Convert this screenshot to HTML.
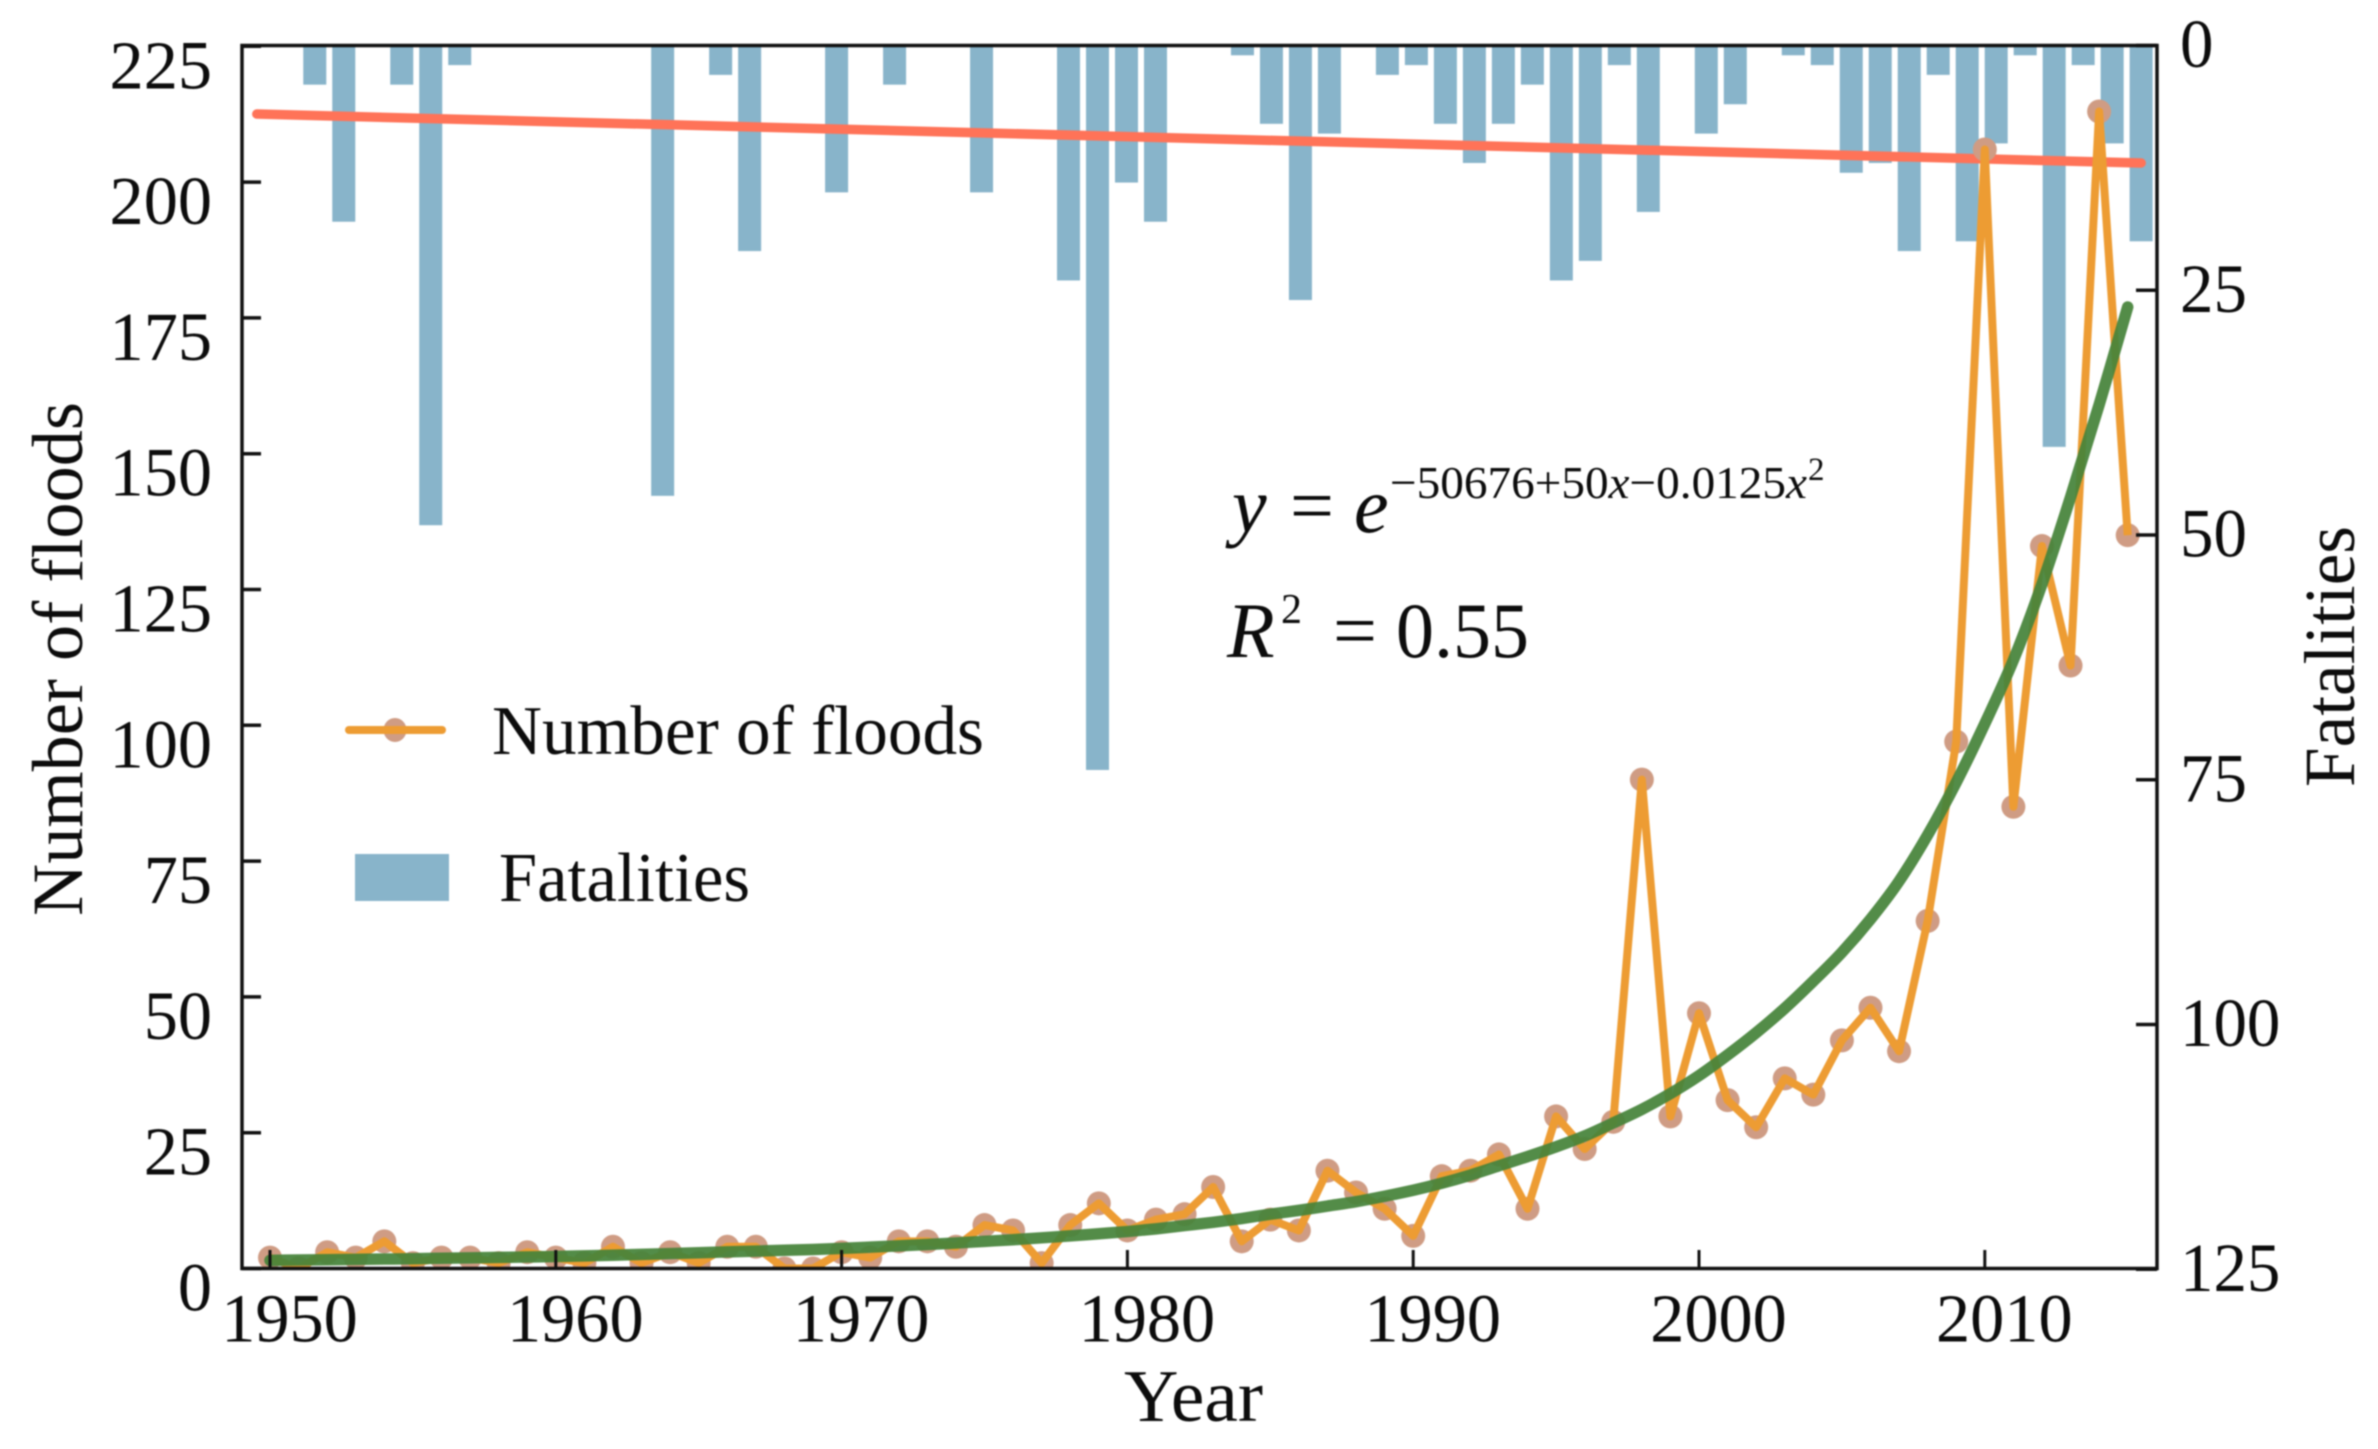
<!DOCTYPE html>
<html lang="en">
<head>
<meta charset="utf-8">
<title>Number of floods and fatalities, 1950-2015</title>
<style>
  html, body { margin: 0; padding: 0; background: #fff; }
  svg { display: block; font-family: "Liberation Serif", serif; fill: #0c0c0c; filter: blur(0.7px); }
</style>
</head>
<body>
<svg id="chart" xmlns="http://www.w3.org/2000/svg" width="2378" height="1449" viewBox="0 0 2378 1449">
  <defs>
    <clipPath id="plot-clip"><rect x="242" y="45" width="1915" height="1224"/></clipPath>
  </defs>
  <g id="bars"></g>
  <g id="trend"></g>
  <g id="series" clip-path="url(#plot-clip)"></g>
  <g id="fit"></g>
  <g id="axes"></g>

  <text x="1124" y="1421" font-size="74" textLength="139" lengthAdjust="spacingAndGlyphs">Year</text>
  <text transform="translate(82,916) rotate(-90)" font-size="72" textLength="514" lengthAdjust="spacingAndGlyphs">Number of floods</text>
  <text transform="translate(2354,787) rotate(-90)" font-size="72" textLength="261" lengthAdjust="spacingAndGlyphs">Fatalities</text>

  <g>
    <ellipse cx="395" cy="730" rx="11.5" ry="12" fill="#cf9c84"/>
    <line x1="349" y1="730" x2="442" y2="730" stroke="#ed9c33" stroke-width="8" stroke-linecap="round"/>
    <text x="492" y="754" font-size="70" textLength="492" lengthAdjust="spacingAndGlyphs">Number of floods</text>
    <rect x="355" y="854" width="94" height="47" fill="#88b4ca"/>
    <text x="499" y="901" font-size="70" textLength="251" lengthAdjust="spacingAndGlyphs">Fatalities</text>
  </g>

  <g>
    <text x="1232" y="532" font-size="78" font-style="italic">y</text>
    <text x="1290" y="532" font-size="78">=</text>
    <text x="1354" y="532" font-size="78" font-style="italic">e</text>
    <text x="1390" y="498" font-size="46" textLength="417" lengthAdjust="spacingAndGlyphs">−50676+50<tspan font-style="italic">x</tspan>−0.0125<tspan font-style="italic">x</tspan></text>
    <text x="1808" y="480" font-size="33">2</text>
    <text x="1227" y="657" font-size="78" font-style="italic">R</text>
    <text x="1281" y="623" font-size="42">2</text>
    <text x="1333" y="657" font-size="78">=</text>
    <text x="1396" y="657" font-size="78" textLength="133" lengthAdjust="spacingAndGlyphs">0.55</text>
  </g>
</svg>

<script>
// Chart data
const years = [1950,1951,1952,1953,1954,1955,1956,1957,1958,1959,1960,1961,1962,1963,1964,1965,1966,1967,1968,1969,1970,1971,1972,1973,1974,1975,1976,1977,1978,1979,1980,1981,1982,1983,1984,1985,1986,1987,1988,1989,1990,1991,1992,1993,1994,1995,1996,1997,1998,1999,2000,2001,2002,2003,2004,2005,2006,2007,2008,2009,2010,2011,2012,2013,2014,2015];
const floods = [2,0,3,2,5,1,2,2,1,3,2,1,4,1,3,1,4,4,0,0,3,2,5,5,4,8,7,1,8,12,7,9,10,15,5,9,7,18,14,11,6,17,18,21,11,28,22,27,90,28,47,31,26,35,32,42,48,40,64,97,206,85,133,111,213,135];
const fitValues = [1.5,1.56,1.62,1.68,1.74,1.8,1.88,1.96,2.04,2.12,2.2,2.32,2.45,2.6,2.75,2.9,3.05,3.2,3.35,3.5,3.7,3.93,4.17,4.42,4.7,5,5.3,5.65,6,6.4,6.8,7.3,7.9,8.5,9.2,10,10.7,11.5,12.3,13.3,14.4,15.7,17.2,18.9,20.6,22.4,24.4,26.8,29.3,32.2,35.5,39.3,43.4,47.9,52.9,58.2,64.3,71.3,79.8,89.5,100.3,112,126,142,159,177];
const fatalities = [0,0,4,18,0,4,49,2,0,0,0,0,0,0,46,0,3,21,0,0,15,0,4,0,0,15,0,0,24,74,14,18,0,0,1,8,26,9,0,3,2,8,12,8,4,24,22,2,17,0,9,6,0,1,2,13,12,21,3,20,10,1,41,2,10,20];
const trendYears = [1950,2015];
const trendValues = [7,12];
const leftTicks = [0,25,50,75,100,125,150,175,200,225];
const rightTicks = [0,25,50,75,100,125];
const xTicks = [1950,1960,1970,1980,1990,2000,2010];

// Axis functions
const NS = 'http://www.w3.org/2000/svg';
const xLine = y => 270 + (y - 1950) * 28.58;
const xBar = y => 256.8 + (y - 1950) * 28.99;
const yLeft = v => 1268.5 - v * 5.432;
const yRight = v => 45.5 + v * 9.79;

function mk(parent, tag, attrs) {
  const el = document.createElementNS(NS, tag);
  for (const k in attrs) el.setAttribute(k, attrs[k]);
  parent.appendChild(el);
  return el;
}

// Fatality bars hanging from the top
const barsG = document.getElementById('bars');
years.forEach((yr, i) => {
  if (!fatalities[i]) return;
  const el = mk(barsG, 'rect', { x: xBar(yr) - 11.5, y: yRight(0), width: 23, height: yRight(fatalities[i]) - yRight(0), fill: '#88b4ca' });
  
  
});

// Fatalities trend line
const trendG = document.getElementById('trend');
const trendLine = mk(trendG, 'line', { x1: xBar(trendYears[0]), y1: yRight(trendValues[0]), x2: xBar(trendYears[1]), y2: yRight(trendValues[1]), stroke: '#ff7358', 'stroke-width': 9.5, 'stroke-linecap': 'round' });



// Floods markers and line
const seriesG = document.getElementById('series');
years.forEach((yr, i) => {
  const m = mk(seriesG, 'ellipse', { cx: xLine(yr), cy: yLeft(floods[i]), rx: 12, ry: 12, fill: '#cf9c84' });
  
  
});
const floodLine = mk(seriesG, 'polyline', { points: years.map((yr, i) => xLine(yr) + ',' + yLeft(floods[i])).join(' '), fill: 'none', stroke: '#ed9c33', 'stroke-width': 8, 'stroke-linejoin': 'round' });



// Fit curve: a smooth spline through the yearly values
const fitG = document.getElementById('fit');
const fitPts = years.map((yr, i) => [xLine(yr), yLeft(fitValues[i])]);
let fitPath = 'M' + fitPts[0][0] + ' ' + fitPts[0][1];
for (let i = 0; i < fitPts.length - 1; i++) {
  const p0 = fitPts[Math.max(i - 1, 0)], p1 = fitPts[i], p2 = fitPts[i + 1], p3 = fitPts[Math.min(i + 2, fitPts.length - 1)];
  fitPath += ' C' + (p1[0] + (p2[0] - p0[0]) / 6) + ' ' + (p1[1] + (p2[1] - p0[1]) / 6) + ' ' + (p2[0] - (p3[0] - p1[0]) / 6) + ' ' + (p2[1] - (p3[1] - p1[1]) / 6) + ' ' + p2[0] + ' ' + p2[1];
}
const fitLine = mk(fitG, 'path', { d: fitPath, fill: 'none', stroke: '#46833a', 'stroke-opacity': 0.93, 'stroke-width': 11.5, 'stroke-linecap': 'round', 'stroke-linejoin': 'round' });



// Axes, ticks and tick labels
const axesG = document.getElementById('axes');
const frame = mk(axesG, 'rect', { x: 242, y: 45.5, width: 1915, height: 1223, fill: 'none', stroke: '#111', 'stroke-width': 3.5 });



leftTicks.forEach(v => {
  const t = mk(axesG, 'line', { x1: 242, x2: 261, y1: yLeft(v), y2: yLeft(v), stroke: '#111', 'stroke-width': 3.5 });
  
  
  const l = mk(axesG, 'text', { transform: 'translate(212,' + (yLeft(v) + 42) + ') scale(0.99,1)', 'text-anchor': 'end', 'font-size': 69 });
  l.textContent = v;
  
  
});
rightTicks.forEach(v => {
  const t = mk(axesG, 'line', { x1: 2136, x2: 2157, y1: yRight(v), y2: yRight(v), stroke: '#111', 'stroke-width': 3.5 });
  
  
  const l = mk(axesG, 'text', { transform: 'translate(2180,' + (yRight(v) + 21.5) + ') scale(0.97,1)', 'font-size': 69 });
  l.textContent = v;
  
  
});
xTicks.forEach(yr => {
  const t = mk(axesG, 'line', { x1: xLine(yr), x2: xLine(yr), y1: 1250, y2: 1269, stroke: '#111', 'stroke-width': 3 });
  
  
  const l = mk(axesG, 'text', { transform: 'translate(' + (xLine(yr) + 19.5) + ',1341.5) scale(0.99,1)', 'text-anchor': 'middle', 'font-size': 69 });
  l.textContent = yr;
  
  
});
</script>
</body>
</html>
